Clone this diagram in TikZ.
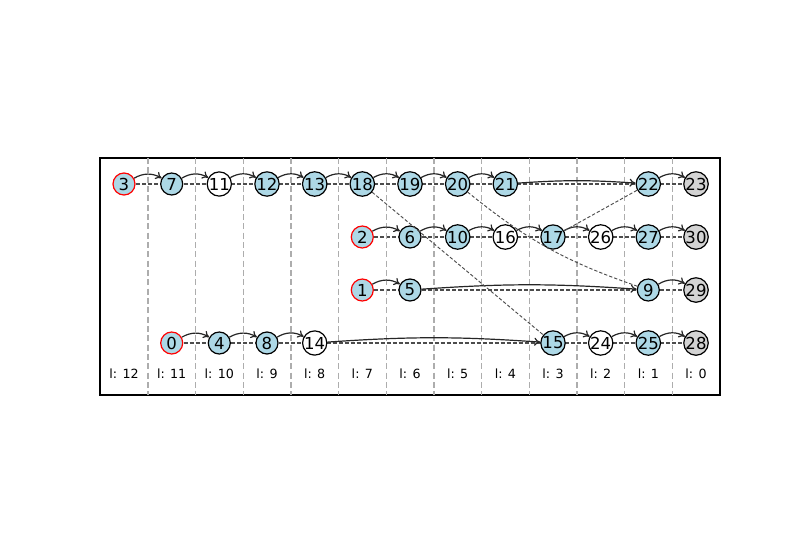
\documentclass[tikz,border=0pt]{standalone}
\usepackage{fontspec}
\setmainfont{DejaVu Sans}
\usetikzlibrary{arrows.meta,backgrounds}
\definecolor{lightblue}{HTML}{ADD8E6}
\definecolor{lightgray}{HTML}{D3D3D3}
\tikzset{
    key/.style={circle, draw=black, line width=0.9pt, minimum size=16.5pt, inner sep=0pt, font=\fontsize{12.4}{14}\selectfont},
    hit/.style={key, fill=lightblue},
    miss/.style={key, fill=white},
    last/.style={key, fill=lightgray},
    head/.style={key, fill=lightblue, draw=red},
    next/.style={-{To[length=4.5pt,width=6pt]}, line width=0.9pt, black!85},
    link/.style={dash pattern=on 3pt off 1.5pt, line width=0.9pt, black!70},
    jump/.style={dash pattern=on 2.5pt off 1.5pt, line width=0.7pt, black!70},
}

\begin{document}
\begin{tikzpicture}[x=0.75pt, y=-0.75pt]
    \useasboundingbox (0,0) rectangle (800,550);
    \draw[line width=0.8pt] (100,158) rectangle (720,395);
    \foreach \i in {0,...,11}
        \draw[black!32, dash pattern=on 4.5pt off 2.5pt, line width=1.1pt] ({148+47.67*\i},158) -- ({148+47.67*\i},395);
    \foreach \i in {0,...,12} {
        \pgfmathtruncatemacro{\lvl}{12-\i}
        \node[font=\fontsize{9.5}{11}\selectfont] (lab\i) at ({124+47.67*\i},374) {l: \lvl};
    }

    % row 1
    \node[head] (n3) at (124,184) {3};
    \node[hit] (n7) at (171.7,184) {7};
    \node[miss] (n11) at (219.3,184) {11};
    \node[hit] (n12) at (267,184) {12};
    \node[hit] (n13) at (314.7,184) {13};
    \node[hit] (n18) at (362.3,184) {18};
    \node[hit] (n19) at (410,184) {19};
    \node[hit] (n20) at (457.7,184) {20};
    \node[hit] (n21) at (505.3,184) {21};
    \node[hit] (n22) at (648.3,184) {22};
    \node[last] (n23) at (696,184) {23};

    % row 2
    \node[head] (n2) at (362.3,237) {2};
    \node[hit] (n6) at (410,237) {6};
    \node[hit] (n10) at (457.7,237) {10};
    \node[miss] (n16) at (505.3,237) {16};
    \node[hit] (n17) at (553,237) {17};
    \node[miss] (n26) at (600.7,237) {26};
    \node[hit] (n27) at (648.3,237) {27};
    \node[last] (n30) at (696,237) {30};

    % row 3
    \node[head] (n1) at (362.3,290) {1};
    \node[hit] (n5) at (410,290) {5};
    \node[hit] (n9) at (648.3,290) {9};
    \node[last] (n29) at (696,290) {29};

    % row 4
    \node[head] (n0) at (171.7,343) {0};
    \node[hit] (n4) at (219.3,343) {4};
    \node[hit] (n8) at (267,343) {8};
    \node[miss] (n14) at (314.7,343) {14};
    \node[hit] (n15) at (553,343) {15};
    \node[miss] (n24) at (600.7,343) {24};
    \node[hit] (n25) at (648.3,343) {25};
    \node[last] (n28) at (696,343) {28};

    \begin{pgfonlayer}{background}
        \foreach \a/\b in {3/7,7/11,11/12,12/13,13/18,18/19,19/20,20/21,21/22,22/23,
                           2/6,6/10,10/16,16/17,17/26,26/27,27/30,
                           1/5,5/9,9/29,
                           0/4,4/8,8/14,14/15,15/24,24/25,25/28}
            \draw[link] (n\a.center) -- (n\b.center);
    \end{pgfonlayer}

    \foreach \a/\b in {3/7,7/11,11/12,12/13,13/18,18/19,19/20,20/21,22/23,
                       2/6,6/10,10/16,16/17,17/26,26/27,27/30,
                       1/5,9/29,
                       0/4,4/8,8/14,15/24,24/25,25/28}
        \draw[next] (n\a) to[bend left=30] (n\b);
    \foreach \a/\b in {21/22,5/9,14/15}
        \draw[next] (n\a) to[bend left=4] (n\b);

    \draw[jump] (n18) -- (n15);
    \draw[jump] (n20) to[bend right=10] (n9);
    \draw[jump] (n17) -- (n22);
\end{tikzpicture}
\end{document}
